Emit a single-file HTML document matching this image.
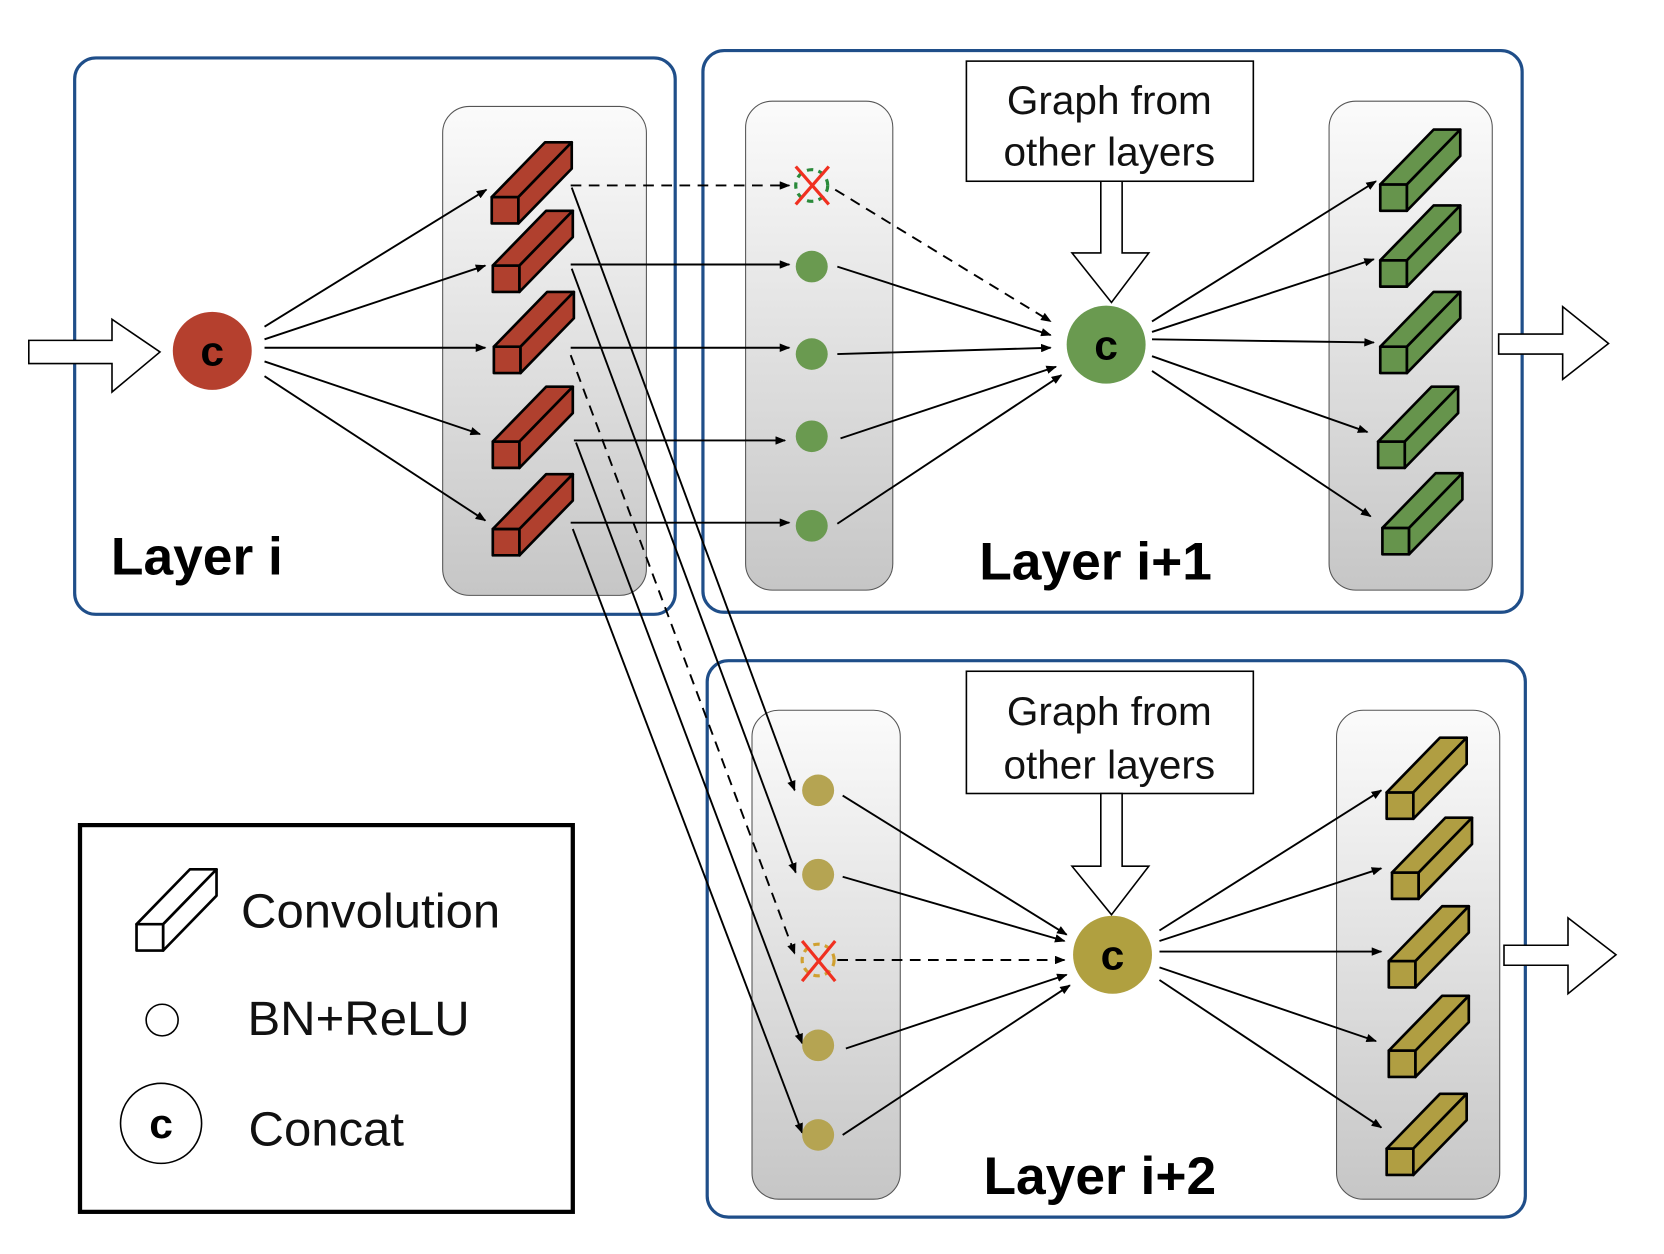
<!DOCTYPE html>
<html><head><meta charset="utf-8"><style>
html,body{margin:0;padding:0;background:#fff;}
svg{display:block;}
.blk polygon,.blk rect{fill:currentColor;stroke:#000;stroke-width:2.5;stroke-linejoin:round;}
text{font-family:"Liberation Sans",sans-serif;}
</style></head><body>
<svg width="1664" height="1254" viewBox="0 0 1560 1190" preserveAspectRatio="none" xmlns="http://www.w3.org/2000/svg">
<defs>
<linearGradient id="pg" x1="0" y1="0" x2="0" y2="1"><stop offset="0" stop-color="#fbfbfb"/><stop offset="1" stop-color="#c6c6c6"/></linearGradient>
<marker id="ah" markerWidth="10" markerHeight="8" refX="9" refY="4" orient="auto" markerUnits="userSpaceOnUse"><path d="M0,0 L10,4 L0,8 z" fill="#000"/></marker>
<g id="blk" class="blk">
<rect x="0" y="-25" width="25" height="25"/>
<polygon points="0,-25 25,-25 75,-77 50,-77"/>
<polygon points="25,-25 75,-77 75,-52 25,0"/>
</g>
</defs>

<!-- outer layer boxes -->
<g fill="none" stroke="#1f4e89" stroke-width="3">
<rect x="70" y="55" width="563" height="528" rx="20"/>
<rect x="659" y="48" width="768" height="533" rx="20"/>
<rect x="663" y="627" width="767" height="528" rx="20"/>
</g>
<rect x="75" y="783" width="462" height="367" fill="none" stroke="#000" stroke-width="4"/>

<!-- inner panels -->
<g fill="url(#pg)" stroke="#555" stroke-width="1">
<rect x="415" y="101" width="191" height="464" rx="25"/>
<rect x="699" y="96" width="138" height="464" rx="25"/>
<rect x="1246" y="96" width="153" height="464" rx="25"/>
<rect x="705" y="674" width="139" height="464" rx="25"/>
<rect x="1253" y="674" width="153" height="464" rx="25"/>
</g>

<!-- blocks -->
<g style="color:#b0402e">
<use href="#blk" x="461" y="212"/><use href="#blk" x="462" y="277"/><use href="#blk" x="463" y="354"/><use href="#blk" x="462" y="444"/><use href="#blk" x="462" y="527"/>
</g>
<g style="color:#66944c">
<use href="#blk" x="1294" y="200"/><use href="#blk" x="1294" y="272"/><use href="#blk" x="1294" y="354"/><use href="#blk" x="1292" y="444"/><use href="#blk" x="1296" y="526"/>
</g>
<g style="color:#b09e42">
<use href="#blk" x="1300" y="777"/><use href="#blk" x="1305" y="853"/><use href="#blk" x="1302" y="937"/><use href="#blk" x="1302" y="1022"/><use href="#blk" x="1300" y="1115"/>
</g>
<g style="color:#fff"><use href="#blk" x="128" y="902"/></g>

<!-- connectors -->
<g stroke="#000" stroke-width="1.8" fill="none" marker-end="url(#ah)">
<line x1="248" y1="310" x2="456" y2="180"/>
<line x1="248" y1="322" x2="455" y2="252"/>
<line x1="248" y1="330" x2="455" y2="330"/>
<line x1="248" y1="343" x2="450" y2="412"/>
<line x1="248" y1="357" x2="455" y2="494"/>

<line x1="535" y1="176" x2="740" y2="176" stroke-dasharray="10,7"/>
<line x1="535" y1="251" x2="740" y2="251"/>
<line x1="535" y1="330" x2="740" y2="330"/>
<line x1="538" y1="418" x2="736" y2="418"/>
<line x1="535" y1="496" x2="740" y2="496"/>

<line x1="536" y1="178" x2="745" y2="750"/>
<line x1="536" y1="255" x2="746" y2="828"/>
<line x1="535" y1="337" x2="745" y2="905" stroke-dasharray="10,7"/>
<line x1="540" y1="420" x2="752" y2="990"/>
<line x1="537" y1="502" x2="752" y2="1075"/>

<line x1="783" y1="180" x2="985" y2="305" stroke-dasharray="10,7"/>
<line x1="785" y1="253" x2="985" y2="318"/>
<line x1="785" y1="336" x2="985" y2="330"/>
<line x1="788" y1="416" x2="990" y2="348"/>
<line x1="785" y1="497" x2="995" y2="356"/>

<line x1="1080" y1="305" x2="1290" y2="172"/>
<line x1="1080" y1="315" x2="1288" y2="246"/>
<line x1="1080" y1="322" x2="1288" y2="325"/>
<line x1="1080" y1="338" x2="1282" y2="410"/>
<line x1="1080" y1="352" x2="1285" y2="490"/>

<line x1="790" y1="755" x2="1000" y2="887"/>
<line x1="790" y1="832" x2="998" y2="893"/>
<line x1="785" y1="911" x2="998" y2="911" stroke-dasharray="10,7"/>
<line x1="793" y1="995" x2="1000" y2="925"/>
<line x1="790" y1="1077" x2="1003" y2="935"/>

<line x1="1087" y1="883" x2="1295" y2="750"/>
<line x1="1087" y1="893" x2="1295" y2="824"/>
<line x1="1087" y1="903" x2="1295" y2="903"/>
<line x1="1087" y1="918" x2="1290" y2="988"/>
<line x1="1087" y1="930" x2="1295" y2="1070"/>
</g>

<!-- dots -->
<g fill="#6a9a50">
<circle cx="761" cy="253" r="15"/><circle cx="761" cy="336" r="15"/><circle cx="761" cy="414" r="15"/><circle cx="761" cy="499" r="15"/>
</g>
<circle cx="761" cy="176" r="15" fill="none" stroke="#2a8a3a" stroke-width="3" stroke-dasharray="6,5"/>
<g stroke="#f03020" stroke-width="3"><line x1="746" y1="158" x2="777" y2="194"/><line x1="777" y1="158" x2="746" y2="194"/></g>
<g fill="#b5a452">
<circle cx="767" cy="750" r="15"/><circle cx="767" cy="830" r="15"/><circle cx="767" cy="992" r="15"/><circle cx="767" cy="1077" r="15"/>
</g>
<circle cx="767" cy="911" r="15" fill="none" stroke="#d0a030" stroke-width="3" stroke-dasharray="6,5"/>
<g stroke="#f03020" stroke-width="3"><line x1="752" y1="893" x2="783" y2="931"/><line x1="783" y1="893" x2="752" y2="931"/></g>

<!-- concat circles -->
<circle cx="199" cy="333" r="37" fill="#b5402e"/>
<circle cx="1037" cy="327" r="37" fill="#6a9a50"/>
<circle cx="1043" cy="906" r="37" fill="#b0a040"/>
<g font-weight="bold" font-size="40" text-anchor="middle">
<text x="199" y="347">c</text><text x="1037" y="341">c</text><text x="1043" y="920">c</text>
</g>

<!-- graph boxes -->
<g fill="#fff" stroke="#000" stroke-width="1.5">
<rect x="906" y="58" width="269" height="114"/>
<rect x="906" y="637" width="269" height="116"/>
<polygon points="1032,172 1052,172 1052,240 1077,240 1042,287 1005,240 1032,240"/>
<polygon points="1032,753 1052,753 1052,822 1077,822 1042,868 1005,822 1032,822"/>
<polygon points="27,323 105,323 105,303 150,334 105,372 105,345 27,345"/>
<polygon points="1405,317 1465,317 1465,291 1508,326 1465,360 1465,336 1405,336"/>
<polygon points="1410,897 1470,897 1470,871 1515,906 1470,943 1470,916 1410,916"/>
</g>
<g font-size="38" text-anchor="middle" fill="#111">
<text x="1040" y="108">Graph from</text><text x="1040" y="157">other layers</text>
<text x="1040" y="688">Graph from</text><text x="1040" y="739">other layers</text>
</g>

<g font-weight="bold" font-size="50" fill="#000">
<text x="104" y="545">Layer i</text>
<text x="918" y="550">Layer i+1</text>
<text x="922" y="1133">Layer i+2</text>
</g>

<!-- legend -->
<circle cx="152" cy="968" r="15" fill="#fff" stroke="#000" stroke-width="1.5"/>
<circle cx="151" cy="1066" r="38" fill="#fff" stroke="#000" stroke-width="1.5"/>
<text x="151" y="1080" font-size="40" font-weight="bold" text-anchor="middle">c</text>
<g font-size="46" fill="#111">
<text x="226" y="880">Convolution</text>
<text x="232" y="982">BN+ReLU</text>
<text x="233" y="1087">Concat</text>
</g>
</svg>
</body></html>
